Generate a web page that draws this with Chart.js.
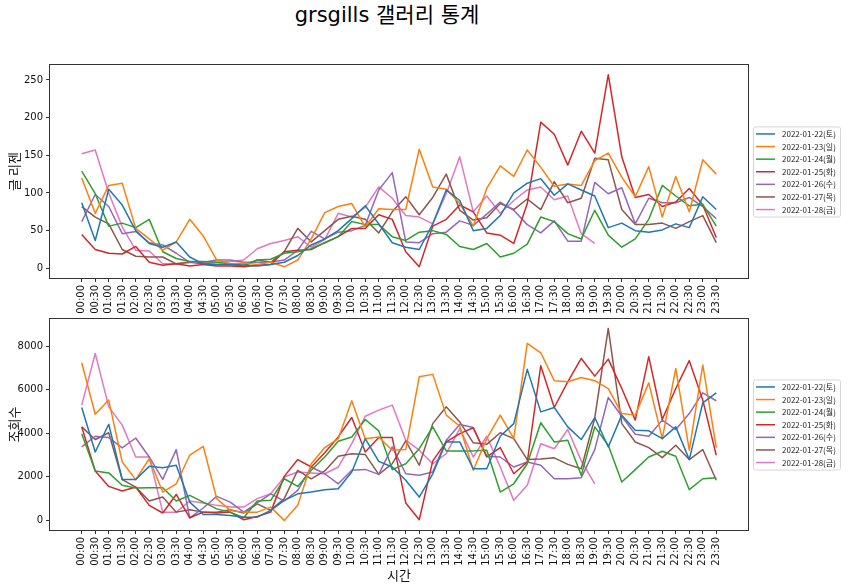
<!DOCTYPE html>
<html>
<head>
<meta charset="utf-8">
<script src="https://cdn.jsdelivr.net/npm/chart.js@4.4.0/dist/chart.umd.min.js"></script>
<style>
  body { margin: 0; background: #fff; width: 850px; height: 586px; position: relative; overflow: hidden; }
  #title { position: absolute; top: 0; left: 0; width: 774px; text-align: center; line-height: 30px;
           font-size: 21px; font-family: 'DejaVu Sans', 'Noto Sans CJK KR', sans-serif; color: #000; }
  canvas { position: absolute; left: 0; }
  #posts { top: 0; }
  #views { top: 310px; }
</style>
</head>
<body>
<div id="title">grsgills 갤러리 통계</div>
<canvas id="posts" width="850" height="320"></canvas>
<canvas id="views" width="850" height="276"></canvas>
<script>
const timeLabels = ['00:00','00:30','01:00','01:30','02:00','02:30','03:00','03:30','04:00','04:30',
  '05:00','05:30','06:00','06:30','07:00','07:30','08:00','08:30','09:00','09:30',
  '10:00','10:30','11:00','11:30','12:00','12:30','13:00','13:30','14:00','14:30',
  '15:00','15:30','16:00','16:30','17:00','17:30','18:00','18:30','19:00','19:30',
  '20:00','20:30','21:00','21:30','22:00','22:30','23:00','23:30'];

const dates = ['2022-01-22(토)', '2022-01-23(일)', '2022-01-24(월)', '2022-01-25(화)',
  '2022-01-26(수)', '2022-01-27(목)', '2022-01-28(금)'];
const colors = ['#1f77b4', '#ff7f0e', '#2ca02c', '#d62728', '#9467bd', '#8c564b', '#e377c2'];

// 글 리젠 (posts per 30 min)
const posts22 = [87, 37, 105, 84, 50, 33, 28, 35, 15, 6, 5, 5, 4, 3, 5, 8, 17, 31, 39, 50, 66, 83, 59, 34,
  28, 25, 59, 104, 90, 50, 53, 70, 100, 113, 119, 97, 112, 104, 96, 54, 60, 50, 48, 51, 59, 54, 95, 78];
const posts23 = [120, 73, 110, 113, 53, 39, 24, 35, 65, 43, 11, 6, 7, 5, 8, 2, 11, 39, 74, 82, 86, 55, 79, 78,
  78, 158, 108, 105, 86, 56, 106, 136, 122, 157, 134, 109, 112, 110, 143, 153, 121, 95, 135, 68, 122, 75, 144, 125];
const posts24 = [129, 99, 56, 60, 54, 65, 22, 13, 9, 9, 8, 6, 4, 11, 12, 20, 22, 26, 34, 42, 62, 58, 58, 42,
  37, 48, 50, 45, 29, 25, 33, 15, 20, 32, 68, 62, 46, 39, 77, 44, 28, 39, 65, 110, 96, 83, 85, 56];
const posts25 = [45, 25, 20, 19, 29, 8, 4, 6, 3, 5, 3, 3, 2, 4, 5, 22, 24, 25, 34, 42, 53, 53, 71, 65,
  22, 2, 56, 65, 84, 75, 47, 44, 33, 86, 194, 178, 137, 182, 153, 257, 148, 94, 98, 82, 88, 106, 84, 41];
const posts26 = [62, 98, 82, 46, 49, 34, 31, 20, 8, 8, 11, 11, 8, 8, 8, 11, 24, 49, 39, 48, 50, 57, 104, 127,
  35, 34, 46, 48, 63, 57, 72, 88, 77, 58, 47, 63, 36, 36, 114, 99, 107, 59, 93, 87, 87, 94, 82, 66];
const posts27 = [82, 68, 59, 25, 16, 15, 15, 6, 8, 6, 5, 5, 3, 11, 8, 22, 53, 35, 50, 65, 69, 65, 47, 75,
  95, 71, 94, 125, 77, 64, 67, 86, 78, 92, 78, 115, 87, 93, 146, 144, 78, 58, 58, 60, 53, 62, 70, 34];
const posts28 = [152, 157, 100, 55, 24, 23, 6, 6, 8, 8, 8, 9, 11, 26, 33, 37, 42, 28, 38, 73, 68, 81, 108, 93,
  70, 68, 59, 99, 148, 75, 96, 73, 90, 104, 108, 91, 96, 46, 33];

// 조회수 (views per 30 min)
const views22 = [5180, 3140, 4410, 1880, 1880, 2480, 2420, 2530, 840, 270, 270, 230, 150, 150, 460, 920, 1220, 1300, 1410, 1450, 2220, 3750, 2710, 2450,
  1840, 1070, 2140, 3600, 3600, 2370, 2370, 3860, 4440, 6930, 4980, 5180, 4290, 3710, 4720, 3370, 4830, 4140, 4110, 3750, 4290, 2790, 5390, 5850];
const views23 = [7230, 4870, 5520, 2680, 1870, 2830, 1300, 1680, 2990, 3400, 1000, 460, 380, 380, 610, 0, 690, 2600, 3340, 3750, 5490, 3750, 3830, 3220,
  3250, 6590, 6700, 4830, 4320, 2300, 3750, 4830, 3750, 8120, 7690, 6410, 6360, 6560, 6410, 6050, 4900, 4830, 6310, 3750, 6970, 3220, 7130, 3340];
const views24 = [3980, 2270, 2180, 1610, 1490, 1500, 1500, 890, 1150, 840, 530, 380, 120, 890, 920, 1910, 1560, 2300, 2910, 3630, 3830, 4630, 4110, 2330,
  2600, 3290, 4290, 3190, 3190, 3190, 3220, 1300, 1680, 2600, 4480, 3600, 3680, 2070, 4290, 3450, 1760, 2330, 2910, 3170, 2940, 1410, 1910, 1960];
const views25 = [4290, 2270, 1560, 1350, 1530, 690, 340, 1190, 120, 380, 340, 380, 30, 180, 380, 2020, 2790, 2450, 3100, 3830, 4720, 3140, 3800, 3800,
  800, 30, 2730, 3600, 3980, 4250, 2910, 3340, 2140, 2680, 7100, 5180, 6360, 7430, 6620, 7400, 6050, 4600, 7510, 4630, 6050, 7330, 5520, 2990];
const views26 = [3370, 3860, 3800, 3330, 3780, 2910, 1880, 3250, 120, 570, 1100, 840, 380, 800, 1220, 890, 1380, 2450, 2140, 1680, 2300, 2340, 2110, 3370,
  2140, 2070, 2220, 3680, 4400, 4260, 2940, 2910, 2450, 2680, 2530, 1910, 1910, 1960, 3250, 5640, 4780, 3950, 3860, 4600, 4170, 4900, 5850, 5490];
const views27 = [4290, 3710, 4020, 1870, 1530, 890, 1070, 380, 490, 380, 380, 490, 340, 760, 460, 1000, 2300, 1910, 2270, 2940, 3060, 3020, 2110, 2600,
  3650, 2530, 4440, 5210, 4520, 3560, 3490, 4020, 3750, 2790, 2820, 2870, 2570, 2370, 4700, 8810, 4440, 3600, 3340, 2880, 3450, 2790, 3250, 1840];
const views28 = [5290, 7660, 5210, 4370, 2910, 2910, 380, 380, 890, 800, 690, 610, 610, 1000, 1220, 1990, 2220, 2180, 2140, 2450, 3520, 4780, 5060, 5290,
  3680, 3220, 2600, 3060, 4210, 2910, 3860, 2450, 920, 1610, 3520, 3290, 4170, 2730, 1680];

const postsTicks = [0, 50, 100, 150, 200, 250];
const viewsTicks = [0, 2000, 4000, 6000, 8000];

const tickFont = { family: "'DejaVu Sans', 'Noto Sans CJK KR', sans-serif", size: 10 };
const titleFont = { family: "'Noto Sans CJK KR', sans-serif", size: 13 };

const frame = {
  id: 'frame',
  afterDatasetsDraw(chart) {
    const { ctx, chartArea: a } = chart;
    ctx.save();
    ctx.strokeStyle = '#333';
    ctx.lineWidth = 1;
    ctx.strokeRect(a.left - 0.5, a.top - 0.5, a.right - a.left + 1, a.bottom - a.top + 1);
    ctx.restore();
  }
};

// legend box outside the plot, centred on the right edge (like bbox_to_anchor=(1, 0.5))
const boxLegend = {
  id: 'boxLegend',
  afterDraw(chart) {
    const { ctx, chartArea } = chart;
    const ds = chart.data.datasets;
    const rowH = 12.6;
    const x0 = chartArea.right + 5;
    const w = 87, h = 7.5 + rowH * (ds.length - 1) + 7;
    const y0 = (chartArea.top + chartArea.bottom) / 2 - h / 2;
    ctx.save();
    ctx.fillStyle = 'rgba(255,255,255,0.8)';
    ctx.strokeStyle = '#d6d6d6';
    ctx.lineWidth = 1;
    ctx.beginPath();
    ctx.roundRect(x0 + 0.5, y0 + 0.5, w, h, 2);
    ctx.fill();
    ctx.stroke();
    ctx.font = "8px 'Noto Sans CJK KR', sans-serif";
    ctx.textBaseline = 'middle';
    ds.forEach((d, i) => {
      const y = y0 + 7.5 + i * rowH;
      ctx.strokeStyle = d.borderColor;
      ctx.lineWidth = 1.5;
      ctx.beginPath();
      ctx.moveTo(x0 + 3, y);
      ctx.lineTo(x0 + 22, y);
      ctx.stroke();
      ctx.fillStyle = '#222';
      ctx.fillText(d.label, x0 + 29, y);
    });
    ctx.restore();
  }
};

function makeChart(canvas, series, yTicks, yMin, yMax, yTitle, xTitle, padTop, xHeight) {
  return new Chart(canvas.getContext('2d'), {
    type: 'line',
    data: {
      datasets: series.map((vals, k) => ({
        label: dates[k],
        data: vals.map((v, i) => ({ x: i, y: v })),
        borderColor: colors[k],
        backgroundColor: colors[k],
        borderWidth: 1.5,
        borderJoinStyle: 'round',
        pointRadius: 0,
        tension: 0,
        fill: false
      }))
    },
    options: {
      responsive: false,
      animation: false,
      devicePixelRatio: 1,
      layout: { padding: { top: padTop, right: 102, left: 0, bottom: 0 } },
      plugins: { legend: { display: false }, tooltip: { enabled: false } },
      scales: {
        x: {
          type: 'linear',
          min: -2.35,
          max: 49.35,
          afterBuildTicks: s => { s.ticks = timeLabels.map((t, i) => ({ value: i })); },
          afterFit: s => { s.height = xHeight; },
          ticks: {
            autoSkip: false,
            minRotation: 90,
            maxRotation: 90,
            padding: 3,
            color: '#111',
            font: tickFont,
            callback: v => timeLabels[v]
          },
          grid: { drawOnChartArea: false, drawTicks: true, tickLength: 4, tickColor: '#333' },
          border: { display: false },
          title: { display: !!xTitle, text: xTitle, color: '#111', font: titleFont, padding: { top: 0, bottom: 3 } }
        },
        y: {
          min: yMin,
          max: yMax,
          afterBuildTicks: s => { s.ticks = yTicks.map(v => ({ value: v })); },
          afterFit: s => { s.width = 50; },
          ticks: { padding: 3, color: '#111', font: tickFont, callback: v => String(v) },
          grid: { drawOnChartArea: false, drawTicks: true, tickLength: 4, tickColor: '#333' },
          border: { display: false },
          title: { display: true, text: yTitle, color: '#111', font: titleFont, padding: { top: 6, bottom: 0 } }
        }
      }
    },
    plugins: [frame, boxLegend]
  });
}

makeChart(document.getElementById('posts'),
  [posts22, posts23, posts24, posts25, posts26, posts27, posts28],
  postsTicks, -12.85, 269.85, '글 리젠', '', 65, 42);

makeChart(document.getElementById('views'),
  [views22, views23, views24, views25, views26, views27, views28],
  viewsTicks, -440, 9240, '조회수', '시간', 9, 56);
</script>
</body>
</html>
